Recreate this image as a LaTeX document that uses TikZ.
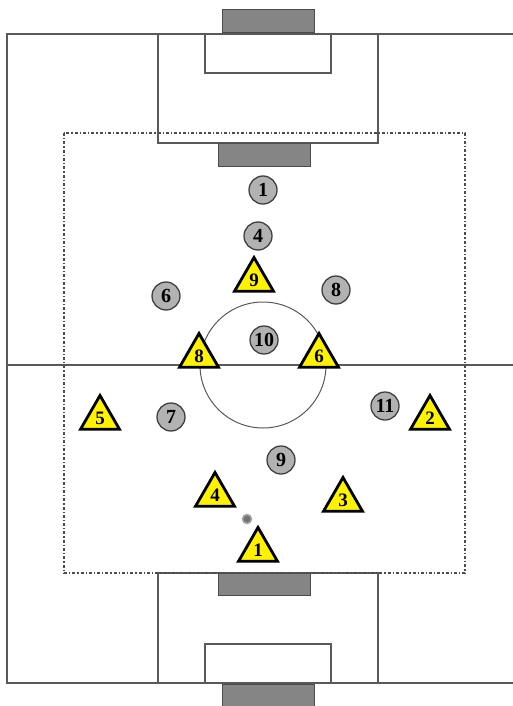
\documentclass[tikz,border=0pt]{standalone}
\usepackage{fontspec}
\setmainfont{Liberation Serif}
\usepackage{tikz}
\usetikzlibrary{shapes.geometric}

\begin{document}
\begin{tikzpicture}[x=1pt, y=-1pt,
  pitch/.style={draw=black!65, line width=1.3pt},
  goal/.style={draw=black!70, line width=1pt, fill=black!48},
  zone/.style={draw=black!70, line width=1.3pt, dash dot},
  mate/.style={circle, draw=black!75, line width=1.3pt, fill=black!30, minimum size=28pt, inner sep=0pt, font=\fontsize{20}{20}\selectfont\bfseries},
  foe/.style={regular polygon, regular polygon sides=3, draw=black, line width=2.8pt, fill=yellow, minimum size=45pt, inner sep=0pt, font=\fontsize{19}{19}\selectfont\bfseries},
  ball/.style={circle, draw=black!35, fill=black!55, line width=1.5pt, minimum size=9pt, inner sep=0pt}]
\useasboundingbox (0,0) rectangle (513,706);
% pitch
\draw[pitch] (513,34) -- (7,34) -- (7,683) -- (513,683);
\draw[pitch] (7,365) -- (513,365);
\draw[pitch] (158,34) rectangle (378,143);
\draw[pitch] (205,34) rectangle (331,73);
\draw[pitch] (158,573) rectangle (378,683);
\draw[pitch] (205,644) rectangle (331,683);
\draw[pitch, line width=1pt] (263,365) circle[radius=63];
\draw[goal] (222,10) rectangle (314,33);
\draw[goal] (218,143) rectangle (310,166);
\draw[goal] (218,573) rectangle (310,595);
\draw[goal] (222,684) rectangle (314,710);
\draw[zone] (64,133) rectangle (465,573);
% grey team
\node[mate] (g1) at (263,190) {1};
\node[mate] (g4) at (258,236) {4};
\node[mate] (g6) at (166,296) {6};
\node[mate] (g8) at (336,290) {8};
\node[mate] (g10) at (264,340) {10};
\node[mate] (g7) at (171,417) {7};
\node[mate] (g11) at (385,406) {11};
\node[mate] (g9) at (281,460) {9};
% yellow team
\node[foe] (y9) at (254,280) {9};
\node[foe] (y8) at (199,356) {8};
\node[foe] (y6) at (319,356) {6};
\node[foe] (y5) at (100,418) {5};
\node[foe] (y2) at (430,418) {2};
\node[foe] (y4) at (215,495) {4};
\node[foe] (y3) at (343,500) {3};
\node[foe] (y1) at (258,550) {1};
\node[ball] (b) at (247,519) {};
\end{tikzpicture}
\end{document}
